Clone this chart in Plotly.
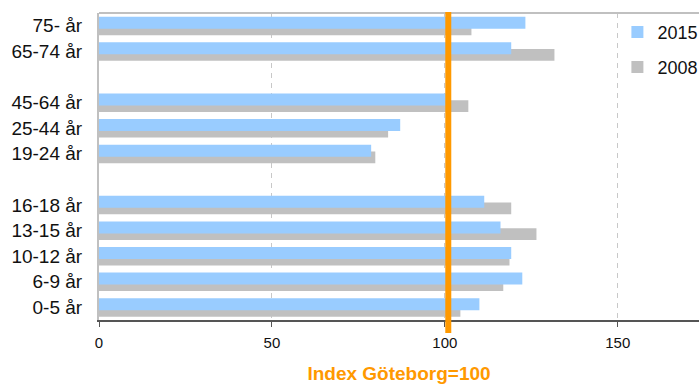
import plotly.graph_objects as go

categories = ["75- år", "65-74 år", " ", "45-64 år", "25-44 år", "19-24 år", "  ",
              "16-18 år", "13-15 år", "10-12 år", "6-9 år", "0-5 år"]
values_2015 = [123.3, 119.2, None, 100.3, 87.1, 78.7, None, 111.4, 116.1, 119.2, 122.4, 110.0]
values_2008 = [107.7, 131.7, None, 106.8, 83.6, 79.9, None, 119.2, 126.5, 118.7, 116.9, 104.5]
reference_value = 101
x_ticks = [0, 50, 100, 150]

FONT = "Liberation Sans, Arial, sans-serif"

fig = go.Figure()
fig.add_trace(go.Bar(
    y=categories, x=values_2008, orientation="h", name="2008",
    marker=dict(color="#C0C0C0", line=dict(width=0)),
    offset=-0.09, width=0.46, legend="legend2", hoverinfo="x+y",
))
fig.add_trace(go.Bar(
    y=categories, x=values_2015, orientation="h", name="2015",
    marker=dict(color="#99CCFF", line=dict(width=0)),
    offset=-0.355, width=0.47, legend="legend", hoverinfo="x+y",
))

fig.update_layout(
    width=699, height=384,
    margin=dict(l=99, r=0, t=13, b=64, autoexpand=False),
    paper_bgcolor="white", plot_bgcolor="white",
    barmode="overlay",
    showlegend=True,
    font=dict(family=FONT, color="#111"),
    legend=dict(x=0.864, y=0.937, xanchor="left", yanchor="middle",
                bgcolor="rgba(0,0,0,0)", font=dict(size=18, family=FONT, color="#111")),
    legend2=dict(x=0.864, y=0.823, xanchor="left", yanchor="middle",
                 bgcolor="rgba(0,0,0,0)", font=dict(size=18, family=FONT, color="#111")),
    xaxis=dict(
        range=[0, 173.5], tickvals=x_ticks, ticktext=[str(v) for v in x_ticks],
        showgrid=True, gridcolor="#C8C8C8", griddash="5px,5px", gridwidth=1,
        zeroline=False, showline=True, linecolor="#555555", linewidth=2,
        ticks="outside", ticklen=5, tickwidth=1, tickcolor="#555555",
        tickfont=dict(size=15, family=FONT, color="#111"),
        ticklabelstandoff=3,
        automargin=False,
        title=dict(text="<b>Index Göteborg=100</b>", standoff=22,
                   font=dict(size=19, family=FONT, color="#FF9900")),
    ),
    yaxis=dict(
        type="category", categoryorder="array", categoryarray=categories,
        range=[11.5, -0.5], showgrid=False, zeroline=False,
        showline=True, linecolor="#C0C0C0", linewidth=2,
        ticks="", ticklabelstandoff=11, automargin=False,
        tickfont=dict(size=19, family=FONT, color="#111"),
    ),
    shapes=[
        dict(type="line", xref="paper", yref="paper", x0=0, x1=1, y0=1, y1=1,
             line=dict(color="#C0C0C0", width=2), layer="above"),
        dict(type="line", xref="x", yref="paper", x0=reference_value, x1=reference_value,
             y0=-0.042, y1=1.003, line=dict(color="#FF9900", width=6), layer="above"),
    ],
)

fig.write_html(
    "out.html",
    config={"displayModeBar": False},
    post_script="document.body.style.margin='0';document.body.style.overflow='hidden';",
)
